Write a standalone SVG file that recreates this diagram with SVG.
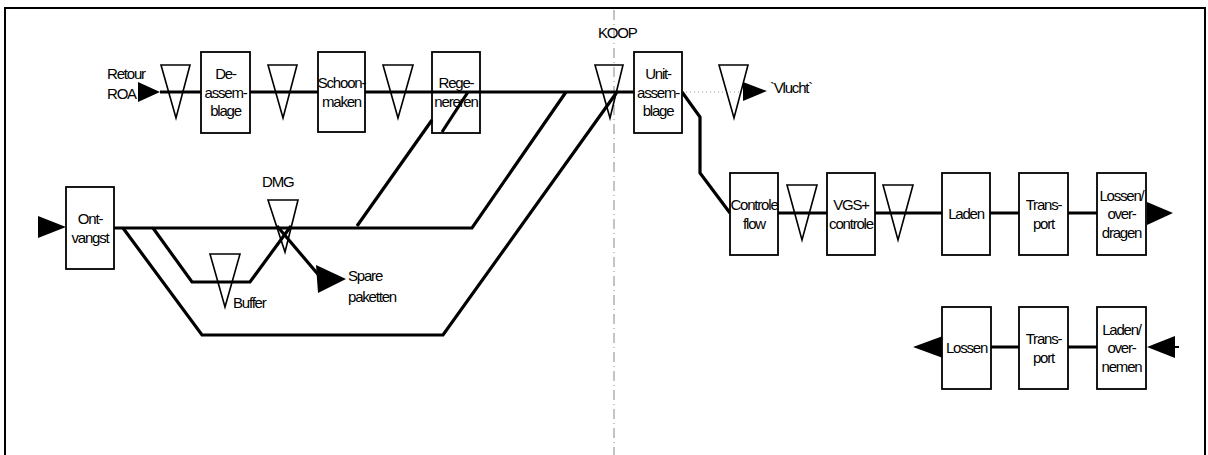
<svg xmlns="http://www.w3.org/2000/svg" width="1208" height="455" viewBox="0 0 1208 455">
<style>
text{font-family:"Liberation Sans",Arial,sans-serif;font-size:15px;letter-spacing:-1.2px;fill:#000}
.c{text-anchor:middle}
.box{fill:#fff;stroke:#000;stroke-width:1.8}
.tri{fill:none;stroke:#000;stroke-width:1.6}
.ln{fill:none;stroke:#000;stroke-width:3.2;stroke-linejoin:miter}
.ah{fill:#000;stroke:none}
</style>
<rect x="5" y="8" width="1200" height="460" fill="#fff" stroke="#000" stroke-width="2"/>
<line x1="614" y1="10" x2="614" y2="455" stroke="#888" stroke-width="1" stroke-dasharray="10 4 1 4"/>
<g id="connectors">
<line class="ln" x1="160" y1="92" x2="634" y2="92"/>
<polyline class="ln" points="114,228 472,228 566,92"/>
<polyline class="ln" points="123,228 202,335 443,335 617,92"/>
<polyline class="ln" points="153,228 192,282 250,282 291,226"/>
<line class="ln" x1="277" y1="226" x2="322" y2="279"/>
<line class="ln" x1="357" y1="226" x2="432" y2="120"/>
<line class="ln" x1="442" y1="132" x2="468" y2="92"/>
<polyline class="ln" points="682,92 700,117 700,173 730,213"/>
<line class="ln" x1="778" y1="213" x2="1097" y2="213"/>
<line class="ln" x1="991" y1="347" x2="1097" y2="347"/>
<line x1="682" y1="92" x2="742" y2="92" stroke="#999" stroke-width="1" stroke-dasharray="1 3"/>
<line x1="1175" y1="347" x2="1179" y2="347" stroke="#000" stroke-width="2"/>
<polygon class="ah" points="138,82 160,92 138,102"/>
<polygon class="ah" points="38,216 66,227 38,238"/>
<polygon class="ah" points="743,82 767,91 743,101"/>
<polygon class="ah" points="1147,202 1173,213 1147,225"/>
<polygon class="ah" points="943,336 913,347 943,358"/>
<polygon class="ah" points="1175,336 1147,347 1175,358"/>
<polygon class="ah" points="316,265 346,279 318,293"/>
</g>
<g id="retour"><text x="107" y="79">Retour</text><text x="107" y="99">ROA</text></g>
<g id="t1"><polygon class="tri" points="161,65 190,65 176,118"/></g>
<g id="deassemblage"><rect class="box" x="201" y="52" width="49" height="81"/><text class="c" x="225.5" y="79">De-</text><text class="c" x="225.5" y="97.5">assem-</text><text class="c" x="225.5" y="116">blage</text></g>
<g id="t2"><polygon class="tri" points="268,65 297,65 283,118"/></g>
<g id="schoonmaken"><rect class="box" x="318" y="52" width="47" height="80"/><text class="c" x="341.5" y="88">Schoon-</text><text class="c" x="341.5" y="107">maken</text></g>
<g id="t3"><polygon class="tri" points="383,65 413,65 398,118"/></g>
<g id="regenereren"><rect class="box" x="432" y="52" width="48" height="81" fill="none" style="fill:none"/><text class="c" x="456" y="88">Rege-</text><text class="c" x="456" y="107">nereren</text></g>
<g id="koop"><text x="598" y="38">KOOP</text><polygon class="tri" points="595,65 623,65 610,118"/></g>
<g id="unitassemblage"><rect class="box" x="634" y="52" width="48" height="81"/><text class="c" x="658" y="79">Unit-</text><text class="c" x="658" y="97.5">assem-</text><text class="c" x="658" y="116">blage</text></g>
<g id="vlucht"><polygon class="tri" points="719,65 748,65 734,118"/><text x="770" y="93">`Vlucht`</text></g>
<g id="ontvangst"><rect class="box" x="66" y="187" width="48" height="82"/><text class="c" x="90" y="223.5">Ont-</text><text class="c" x="90" y="242.5">vangst</text></g>
<g id="dmg"><text x="262" y="187">DMG</text><polygon class="tri" points="268,200 298,200 285,252"/></g>
<g id="buffer"><polygon class="tri" points="210,254 240,254 225,307"/><text x="233" y="308">Buffer</text></g>
<g id="spare"><text x="348" y="281">Spare</text><text x="348" y="302">paketten</text></g>
<g id="controleflow"><rect class="box" x="730" y="173" width="48" height="82"/><text class="c" x="754" y="209.5">Controle</text><text class="c" x="754" y="228.5">flow</text></g>
<g id="t6"><polygon class="tri" points="787,185 817,185 802,240"/></g>
<g id="vgs"><rect class="box" x="827" y="173" width="48" height="82"/><text class="c" x="851" y="209.5">VGS+</text><text class="c" x="851" y="228.5">controle</text></g>
<g id="t7"><polygon class="tri" points="883,185 913,185 898,240"/></g>
<g id="laden"><rect class="box" x="942" y="173" width="48" height="82"/><text class="c" x="966" y="219">Laden</text></g>
<g id="transport1"><rect class="box" x="1019" y="173" width="49" height="82"/><text class="c" x="1043.5" y="209.5">Trans-</text><text class="c" x="1043.5" y="228.5">port</text></g>
<g id="lossenoverdragen"><rect class="box" x="1097" y="173" width="49" height="82"/><text class="c" x="1121.5" y="200.5">Lossen/</text><text class="c" x="1121.5" y="219">over-</text><text class="c" x="1121.5" y="237.5">dragen</text></g>
<g id="lossen"><rect class="box" x="942" y="307" width="49" height="82"/><text class="c" x="966.5" y="353">Lossen</text></g>
<g id="transport2"><rect class="box" x="1019" y="307" width="49" height="82"/><text class="c" x="1043.5" y="343.5">Trans-</text><text class="c" x="1043.5" y="362.5">port</text></g>
<g id="ladenovernemen"><rect class="box" x="1097" y="307" width="49" height="82"/><text class="c" x="1121.5" y="334.5">Laden/</text><text class="c" x="1121.5" y="353">over-</text><text class="c" x="1121.5" y="371.5">nemen</text></g>
</svg>
